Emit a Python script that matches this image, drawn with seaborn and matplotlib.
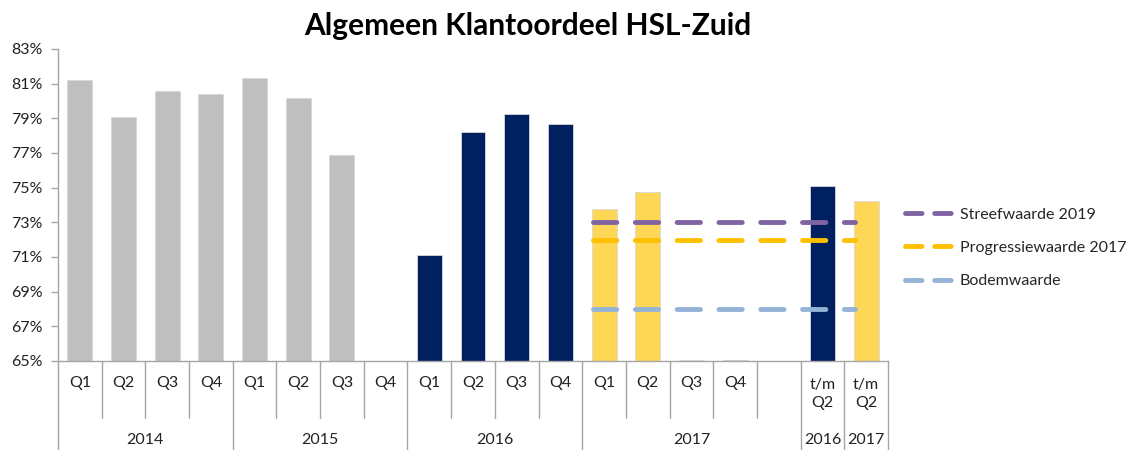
import matplotlib
matplotlib.use("Agg")
import matplotlib.pyplot as plt
import seaborn as sns
import pandas as pd
import numpy as np
from matplotlib.lines import Line2D
from matplotlib.transforms import blended_transform_factory

# ---- data ----
quarters = ["Q1", "Q2", "Q3", "Q4", "Q1", "Q2", "Q3", "Q4", "Q1", "Q2", "Q3", "Q4",
            "Q1", "Q2", "Q3", "Q4", "", "t/m\nQ2", "t/m\nQ2"]
years = ["2014"] * 4 + ["2015"] * 4 + ["2016"] * 4 + ["2017"] * 5 + ["2016", "2017"]
values = [81.2, 79.1, 80.6, 80.4, 81.3, 80.2, 76.9, np.nan,
          71.1, 78.2, 79.25, 78.7,
          73.77, 74.75, 65.05, 65.05, np.nan, 75.1, 74.23]
groups = ["hist"] * 8 + ["y2016"] * 4 + ["y2017"] * 3 + ["other", "none", "y2016", "y2017"]
target_names = ["Streefwaarde 2019", "Progressiewaarde 2017", "Bodemwaarde"]
target_values = [73, 72, 68]
target_start, target_end = 12, 18  # category index span of the target lines

palette = {"hist": "#BFBFBF", "y2016": "#002060", "y2017": "#FFD757",
           "other": "#5B7FB5", "none": "#FFFFFF"}
target_colors = ["#8064A2", "#FFC000", "#95B3D7"]

slots = [f"s{i}" for i in range(len(values))]
df = pd.DataFrame({"slot": slots, "value": values, "group": groups})

sns.set_theme(style="white")
plt.rcParams["font.family"] = ["Lato", "DejaVu Sans"]

fig = plt.figure(figsize=(11.28, 4.5), dpi=100)
ax = fig.add_axes([58 / 1128, 1 - 361 / 450, 830 / 1128, 312 / 450])

sns.barplot(data=df, x="slot", y="value", hue="group", order=slots, palette=palette,
            dodge=False, width=0.57, legend=False, ax=ax, saturation=1,
            edgecolor="#d9d9d9", linewidth=0.6)

for name, val, col in zip(target_names, target_values, target_colors):
    ax.plot([target_start - 0.25, target_end - 0.25], [val, val], color=col, lw=3.5,
            dashes=(4.8, 3.8), solid_capstyle="round", dash_capstyle="round", label=name)

ax.set_ylim(65, 83)
ax.set_xlim(-0.5, len(slots) - 0.5)
ax.set_yticks(range(65, 84, 2))
ax.set_yticklabels([f"{v}%" for v in range(65, 84, 2)], fontsize=11.5, color="#222222")
ax.tick_params(axis="y", length=5, width=1, color="#a6a6a6", pad=6, left=True)
ax.set_xticks([])
ax.set_xlabel("")
ax.set_ylabel("")
for s in ["top", "right"]:
    ax.spines[s].set_visible(False)
for s in ["left", "bottom"]:
    ax.spines[s].set_color("#a6a6a6")
    ax.spines[s].set_linewidth(1)

# multi-level category axis
tr = blended_transform_factory(ax.transData, fig.transFigure)
y_axis = 1 - 361 / 450
y_short = 1 - 418 / 450
for i, q in enumerate(quarters):
    if q:
        ax.text(i, 1 - 383 / 450 if "\n" not in q else 1 - 394 / 450, q, transform=tr,
                ha="center", va="center", fontsize=11.5, color="#222222",
                linespacing=1.35)
# separators
for i in range(len(slots) + 1):
    left_year = years[i - 1] if i > 0 else None
    right_year = years[i] if i < len(slots) else None
    long_line = (left_year != right_year) or i in (17, 18)
    y_end = 0.0 if long_line else y_short
    ax.plot([i - 0.5, i - 0.5], [y_axis, y_end], transform=tr, color="#a6a6a6",
            lw=1, clip_on=False)
# year labels
year_groups = []
start = 0
for i in range(1, len(slots) + 1):
    if i == len(slots) or years[i] != years[start] or i in (17, 18):
        year_groups.append((years[start], start, i - 1))
        start = i
for y, a, b in year_groups:
    ax.text((a + b) / 2, 1 - 440 / 450, y, transform=tr, ha="center", va="center",
            fontsize=11.5, color="#222222")

fig.text(528 / 1128, 1 - 26 / 450, "Algemeen Klantoordeel HSL-Zuid", ha="center",
         va="center", fontsize=21.5, fontweight="bold", color="#000000")

handles = [Line2D([0], [0], color=c, lw=3.5, dashes=(3.4, 2.6), dash_capstyle="round")
           for c in target_colors]
fig.legend(handles, target_names, loc="upper left", bbox_to_anchor=(899 / 1128, 1 - 201 / 450),
           frameon=False, fontsize=11.5, handlelength=2.9, handletextpad=0.5,
           labelspacing=1.2, borderaxespad=0)

fig.savefig("out.png", dpi=100, facecolor="white")
